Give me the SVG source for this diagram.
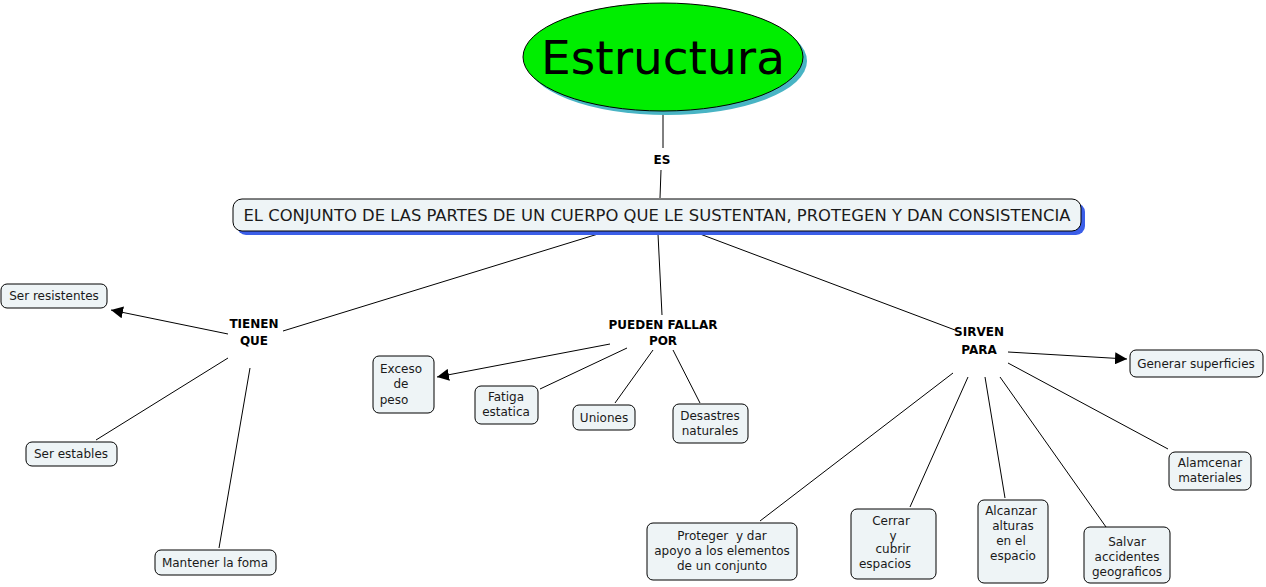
<svg xmlns="http://www.w3.org/2000/svg" width="1266" height="587" viewBox="0 0 1266 587">
<defs>
<marker id="arr" viewBox="0 0 10 10" refX="10" refY="5" markerWidth="12" markerHeight="12" markerUnits="userSpaceOnUse" orient="auto">
<path d="M0,0 L10,5 L0,10 z" fill="#000"/>
</marker>
<style>
.box{fill:#eef4f6;stroke:#000;stroke-width:1}
.t{font-family:"DejaVu Sans",Verdana,sans-serif;font-size:12px;fill:#1a1a1a;text-anchor:middle}
.lbl{font-family:"DejaVu Sans",Verdana,sans-serif;font-size:12px;font-weight:bold;fill:#000;text-anchor:middle}
.c{stroke:#000;stroke-width:1;fill:none}
</style>
</defs>
<rect width="1266" height="587" fill="#fff"/>
<g id="connectors">
<line class="c" x1="663" y1="113" x2="663" y2="148"/>
<line class="c" x1="661" y1="170" x2="660" y2="198"/>
<line class="c" x1="598" y1="234" x2="283" y2="331"/>
<line class="c" x1="658" y1="234" x2="662" y2="315"/>
<line class="c" x1="700" y1="234" x2="955" y2="330"/>
<line class="c" x1="228" y1="334" x2="111" y2="310" marker-end="url(#arr)"/>
<line class="c" x1="228" y1="358" x2="96" y2="440"/>
<line class="c" x1="250" y1="368" x2="219" y2="548"/>
<line class="c" x1="610" y1="344" x2="437" y2="377" marker-end="url(#arr)"/>
<line class="c" x1="627" y1="348" x2="540" y2="389"/>
<line class="c" x1="653" y1="350" x2="615" y2="403"/>
<line class="c" x1="673" y1="350" x2="700" y2="403"/>
<line class="c" x1="1008" y1="352" x2="1127" y2="359" marker-end="url(#arr)"/>
<line class="c" x1="1008" y1="363" x2="1168" y2="449"/>
<line class="c" x1="953" y1="373" x2="760" y2="521"/>
<line class="c" x1="968" y1="377" x2="910" y2="507"/>
<line class="c" x1="985" y1="377" x2="1005" y2="498"/>
<line class="c" x1="1000" y1="377" x2="1106" y2="527"/>
</g>
<g id="estructura">
<ellipse cx="667" cy="61" rx="140" ry="54" fill="#48b4c4"/>
<ellipse cx="663" cy="57" rx="140" ry="54" fill="#00ee00" stroke="#000" stroke-width="1"/>
<text x="663" y="74" font-family="DejaVu Sans,Verdana,sans-serif" font-size="47" text-anchor="middle" fill="#000">Estructura</text>
</g>
<g id="es"><text class="lbl" x="662" y="164">ES</text></g>
<g id="conjunto">
<rect x="237" y="203" width="848" height="32" rx="9" fill="#3b5ee8"/>
<rect class="box" x="233" y="199" width="848" height="32" rx="9"/>
<text x="657" y="221" font-family="DejaVu Sans,Verdana,sans-serif" font-size="16.4" text-anchor="middle" fill="#1a1a1a">EL CONJUNTO DE LAS PARTES DE UN CUERPO QUE LE SUSTENTAN, PROTEGEN Y DAN CONSISTENCIA</text>
</g>
<g id="tienen"><text class="lbl" x="254" y="328">TIENEN</text><text class="lbl" x="254" y="345">QUE</text></g>
<g id="pueden"><text class="lbl" x="663" y="329">PUEDEN FALLAR</text><text class="lbl" x="663" y="345">POR</text></g>
<g id="sirven"><text class="lbl" x="979" y="336">SIRVEN</text><text class="lbl" x="979" y="354">PARA</text></g>
<g id="ser-resistentes"><rect class="box" x="1" y="284" width="106" height="24" rx="6"/><text class="t" x="54" y="300">Ser resistentes</text></g>
<g id="ser-estables"><rect class="box" x="26" y="442" width="91" height="24" rx="6"/><text class="t" x="71" y="458">Ser estables</text></g>
<g id="mantener"><rect class="box" x="155" y="550" width="121" height="25" rx="6"/><text class="t" x="215" y="567">Mantener la foma</text></g>
<g id="exceso"><rect class="box" x="373" y="356" width="61" height="57" rx="6"/><text class="t" x="401" y="373">Exceso</text><text class="t" x="401" y="388">de</text><text class="t" x="394" y="404">peso</text></g>
<g id="fatiga"><rect class="box" x="475" y="386" width="63" height="38" rx="6"/><text class="t" x="506" y="401">Fatiga</text><text class="t" x="506" y="416">estatica</text></g>
<g id="uniones"><rect class="box" x="573" y="405" width="62" height="25" rx="6"/><text class="t" x="604" y="422">Uniones</text></g>
<g id="desastres"><rect class="box" x="673" y="404" width="75" height="39" rx="6"/><text class="t" x="710" y="420">Desastres</text><text class="t" x="710" y="435">naturales</text></g>
<g id="generar"><rect class="box" x="1130" y="350" width="133" height="27" rx="6"/><text class="t" x="1196" y="368">Generar superficies</text></g>
<g id="alamcenar"><rect class="box" x="1169" y="452" width="82" height="38" rx="6"/><text class="t" x="1210" y="467">Alamcenar</text><text class="t" x="1210" y="482">materiales</text></g>
<g id="proteger"><rect class="box" x="647" y="523" width="150" height="57" rx="6"/><text class="t" x="722" y="540" xml:space="preserve">Proteger  y dar</text><text class="t" x="722" y="555">apoyo a los elementos</text><text class="t" x="722" y="570">de un conjunto</text></g>
<g id="cerrar"><rect class="box" x="851" y="509" width="85" height="70" rx="6"/><text class="t" x="891" y="525">Cerrar</text><text class="t" x="893" y="540">y</text><text class="t" x="893" y="553">cubrir</text><text class="t" x="885" y="568">espacios</text></g>
<g id="alcanzar"><rect class="box" x="978" y="500" width="70" height="83" rx="6"/><text class="t" x="1011" y="515">Alcanzar</text><text class="t" x="1013" y="530">alturas</text><text class="t" x="1011" y="545">en el</text><text class="t" x="1013" y="560">espacio</text></g>
<g id="salvar"><rect class="box" x="1084" y="527" width="86" height="56" rx="6"/><text class="t" x="1127" y="546">Salvar</text><text class="t" x="1127" y="561">accidentes</text><text class="t" x="1127" y="576">geograficos</text></g>
</svg>
